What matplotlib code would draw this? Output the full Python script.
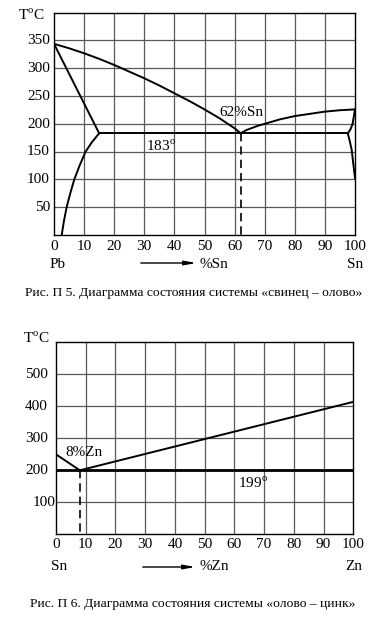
import numpy as np
from matplotlib import pyplot as plt

plt.rcParams['font.family'] = ['Liberation Serif', 'DejaVu Serif']

W, H = 381, 631

# --- диаграмма Pb-Sn ---
pb_liq_x = [0, 5, 10, 15, 20, 25, 30, 35, 40, 45, 50, 55, 60, 62]
pb_liq_t = [344, 336, 327, 317, 306, 294, 282, 269, 255, 241, 226, 210, 192, 183]
pb_sol_x = [0, 15]
pb_sol_t = [344, 183]
pb_solv_x = [15, 12.6, 10.5, 8.5, 6.75, 5.4, 4.2, 3.3, 2.56]
pb_solv_t = [183, 167, 150, 125, 100, 75, 50, 25, 0]
sn_liq_x = [62, 64, 66, 68, 70, 75, 80, 85, 90, 95, 100]
sn_liq_t = [183, 189, 193, 197, 200, 208, 214, 218, 222, 224.5, 226]
sn_sol_x = [100, 99.6, 99.2, 98.5, 97.6]
sn_sol_t = [226, 213, 200, 190, 183]
sn_solv_x = [97.6, 98.3, 98.9, 99.5, 100]
sn_solv_t = [183, 168, 153, 125, 102]
eut1_x = [15, 97.6]
eut1_t = 183
eut1_c = 62

# --- диаграмма Sn-Zn ---
zn_liq1_x = [0, 8]
zn_liq1_t = [249, 199]
zn_liq2_x = [8, 100]
zn_liq2_t = [199, 413]
eut2_x = [0, 100]
eut2_t = 199
eut2_c = 8

xticks = np.arange(0, 101, 10)
yticks1 = np.arange(50, 351, 50)
yticks2 = np.arange(100, 501, 100)

FS = 11
CAP = 9.7


def px(x, y):
    return x / W, 1 - y / H


def make_axes(l, t, r, b):
    ax = fig.add_axes([l / W, 1 - b / H, (r - l) / W, (b - t) / H])
    for s in ax.spines.values():
        s.set_color('black')
        s.set_linewidth(1.0)
    ax.set_xticks([])
    ax.set_yticks([])
    return ax


fig = plt.figure(figsize=(W / 100, H / 100), dpi=100)

# ---------- график 1 ----------
ax1 = make_axes(54, 12.7, 355, 235)
ax1.set_xlim(0, 100)
ax1.set_ylim(0, 400)
for x in xticks[1:-1]:
    ax1.axvline(x, color='0.35', lw=0.9, zorder=1)
for y in np.arange(50, 400, 50):
    ax1.axhline(y, color='0.35', lw=0.9, zorder=1)

k = dict(color='black', lw=1.4, zorder=3)
ax1.plot(pb_liq_x, pb_liq_t, **k)
ax1.plot(pb_sol_x, pb_sol_t, **k)
ax1.plot(pb_solv_x, pb_solv_t, **k)
ax1.plot(sn_liq_x, sn_liq_t, **k)
ax1.plot(sn_sol_x, sn_sol_t, **k)
ax1.plot(sn_solv_x, sn_solv_t, **k)
ax1.plot(eut1_x, [eut1_t, eut1_t], **k)
ax1.plot([eut1_c, eut1_c], [eut1_t, 0], color='black', lw=1.2, ls=(0, (5, 3)), zorder=3)

ax1.text(62.3, 220, '62%Sn', fontsize=FS, ha='center', va='center')
ax1.text(35.5, 160, '183$^{\\mathregular{o}}$', fontsize=FS, ha='center', va='center')

for x in xticks:
    fig.text(*px(54 + x * 3.01, 246), str(x), fontsize=FS, ha='center', va='center')
for y in yticks1:
    fig.text(*px(50, 235 - y * 0.5545), str(y), fontsize=FS, ha='right', va='center')
fig.text(*px(31, 15), 'T$^{\\mathregular{o}}$C', fontsize=FS, ha='center', va='center')
fig.text(*px(50, 264), 'Pb', fontsize=FS, ha='left', va='center')
fig.text(*px(363, 264), 'Sn', fontsize=FS, ha='right', va='center')
fig.text(*px(200, 264), '%Sn', fontsize=FS, ha='left', va='center')
fig.add_artist(plt.Annotation('', xy=px(199, 263), xytext=px(138, 263),
                              xycoords='figure fraction', textcoords='figure fraction',
                              arrowprops=dict(arrowstyle='-|>,head_length=0.7,head_width=0.13',
                                              color='black', lw=1.0)))
fig.text(*px(194, 293), 'Рис. П 5. Диаграмма состояния системы «свинец – олово»',
         fontsize=CAP, ha='center', va='center')

# ---------- график 2 ----------
ax2 = make_axes(56, 342, 353.3, 534)
ax2.set_xlim(0, 100)
ax2.set_ylim(0, 600)
for x in xticks[1:-1]:
    ax2.axvline(x, color='0.35', lw=0.9, zorder=1)
for y in np.arange(100, 600, 100):
    ax2.axhline(y, color='0.35', lw=0.9, zorder=1)

ax2.plot(zn_liq1_x, zn_liq1_t, **k)
ax2.plot(zn_liq2_x, zn_liq2_t, **k)
ax2.plot(eut2_x, [eut2_t, eut2_t], color='black', lw=2.0, zorder=3)
ax2.plot([eut2_c, eut2_c], [eut2_t, 0], color='black', lw=1.2, ls=(0, (5, 3)), zorder=3)

ax2.text(3.0, 256, '8%Zn', fontsize=FS, ha='left', va='center')
ax2.text(61.2, 159, '199$^{\\mathregular{o}}$', fontsize=FS, ha='left', va='center')

for x in xticks:
    fig.text(*px(56 + x * 2.973, 545), str(x), fontsize=FS, ha='center', va='center')
for y in yticks2:
    xr = 56 if y == 100 else 48
    fig.text(*px(xr, 534 - y * 0.32), str(y), fontsize=FS, ha='right', va='center')
fig.text(*px(36, 338), 'T$^{\\mathregular{o}}$C', fontsize=FS, ha='center', va='center')
fig.text(*px(51, 567), 'Sn', fontsize=FS, ha='left', va='center')
fig.text(*px(362, 567), 'Zn', fontsize=FS, ha='right', va='center')
fig.text(*px(199, 567), '%Zn', fontsize=FS, ha='left', va='center')
fig.add_artist(plt.Annotation('', xy=px(198, 567), xytext=px(140, 567),
                              xycoords='figure fraction', textcoords='figure fraction',
                              arrowprops=dict(arrowstyle='-|>,head_length=0.7,head_width=0.13',
                                              color='black', lw=1.0)))
fig.text(*px(193, 604), 'Рис. П 6. Диаграмма состояния системы «олово – цинк»',
         fontsize=CAP, ha='center', va='center')

fig.savefig('out.png', dpi=100)
